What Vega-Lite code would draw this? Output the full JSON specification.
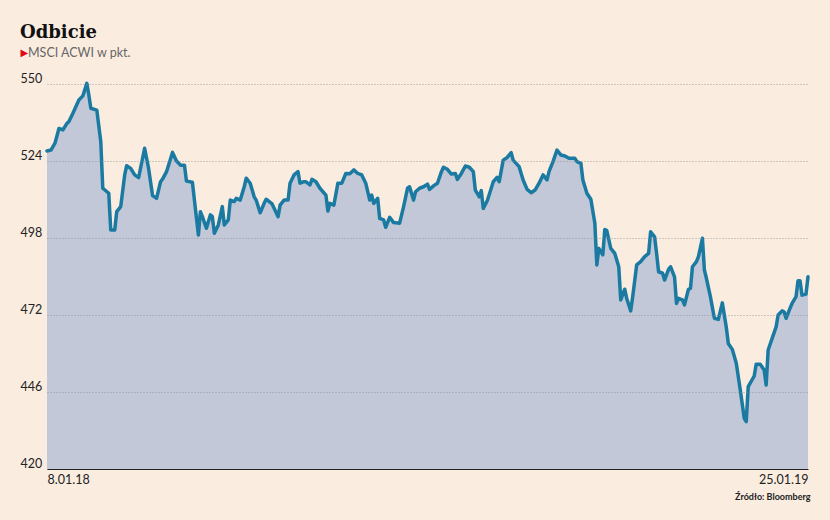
{
  "$schema": "https://vega.github.io/schema/vega-lite/v6.json",
  "width": 761,
  "height": 385,
  "autosize": {"type": "none"},
  "padding": {"left": 47, "top": 84, "right": 22, "bottom": 51},
  "background": "#FAEDE0",
  "title": {
    "text": "Odbicie",
    "subtitle": "MSCI ACWI w pkt.",
    "anchor": "start",
    "dx": 0,
    "offset": -12,
    "font": "DejaVu Serif",
    "fontSize": 18,
    "fontWeight": "bold",
    "color": "#111111",
    "subtitleFont": "Lato",
    "subtitleFontSize": 12.5,
    "subtitleColor": "#666666",
    "subtitlePadding": 5,
    "encode": {"subtitle": {"update": {"dx": {"value": 8}}}}
  },
  "config": {"view": {"stroke": null}},
  "data": {
    "values": [
      {"d": "2018-01-08", "v": 527.4}, {"d": "2018-01-10", "v": 527.7}, {"d": "2018-01-12", "v": 530.0}, {"d": "2018-01-14", "v": 535.0},
      {"d": "2018-01-16", "v": 534.5}, {"d": "2018-01-18", "v": 536.7}, {"d": "2018-01-19", "v": 537.3}, {"d": "2018-01-21", "v": 540.1},
      {"d": "2018-01-24", "v": 544.6}, {"d": "2018-01-26", "v": 546.0}, {"d": "2018-01-28", "v": 550.2}, {"d": "2018-01-29", "v": 546.3},
      {"d": "2018-01-30", "v": 541.8}, {"d": "2018-02-02", "v": 541.2}, {"d": "2018-02-04", "v": 530.5}, {"d": "2018-02-05", "v": 514.8},
      {"d": "2018-02-08", "v": 513.1}, {"d": "2018-02-09", "v": 500.7}, {"d": "2018-02-11", "v": 500.7}, {"d": "2018-02-12", "v": 506.9},
      {"d": "2018-02-14", "v": 508.6}, {"d": "2018-02-16", "v": 519.3}, {"d": "2018-02-17", "v": 522.4}, {"d": "2018-02-19", "v": 521.5},
      {"d": "2018-02-21", "v": 519.3}, {"d": "2018-02-23", "v": 518.4}, {"d": "2018-02-26", "v": 528.3}, {"d": "2018-02-28", "v": 521.5},
      {"d": "2018-03-02", "v": 512.3}, {"d": "2018-03-04", "v": 511.4}, {"d": "2018-03-06", "v": 517.0}, {"d": "2018-03-07", "v": 517.9},
      {"d": "2018-03-09", "v": 520.4}, {"d": "2018-03-12", "v": 526.9}, {"d": "2018-03-14", "v": 524.0}, {"d": "2018-03-16", "v": 522.6},
      {"d": "2018-03-18", "v": 522.6}, {"d": "2018-03-19", "v": 517.2}, {"d": "2018-03-22", "v": 516.8}, {"d": "2018-03-23", "v": 510.8},
      {"d": "2018-03-25", "v": 499.0}, {"d": "2018-03-26", "v": 506.9}, {"d": "2018-03-27", "v": 505.2}, {"d": "2018-03-29", "v": 501.3},
      {"d": "2018-03-31", "v": 505.8}, {"d": "2018-04-01", "v": 505.2}, {"d": "2018-04-02", "v": 499.6}, {"d": "2018-04-04", "v": 502.4},
      {"d": "2018-04-06", "v": 508.6}, {"d": "2018-04-07", "v": 502.4}, {"d": "2018-04-09", "v": 504.1}, {"d": "2018-04-10", "v": 510.8},
      {"d": "2018-04-12", "v": 510.3}, {"d": "2018-04-13", "v": 511.4}, {"d": "2018-04-15", "v": 510.8}, {"d": "2018-04-17", "v": 515.3},
      {"d": "2018-04-18", "v": 518.2}, {"d": "2018-04-20", "v": 516.5}, {"d": "2018-04-22", "v": 511.9}, {"d": "2018-04-23", "v": 510.8},
      {"d": "2018-04-25", "v": 506.5}, {"d": "2018-04-27", "v": 509.7}, {"d": "2018-04-28", "v": 511.1}, {"d": "2018-05-01", "v": 509.5},
      {"d": "2018-05-04", "v": 505.2}, {"d": "2018-05-05", "v": 509.1}, {"d": "2018-05-07", "v": 510.8}, {"d": "2018-05-09", "v": 510.8},
      {"d": "2018-05-10", "v": 516.5}, {"d": "2018-05-12", "v": 519.3}, {"d": "2018-05-14", "v": 520.4}, {"d": "2018-05-15", "v": 516.5},
      {"d": "2018-05-17", "v": 517.0}, {"d": "2018-05-18", "v": 517.0}, {"d": "2018-05-20", "v": 515.9}, {"d": "2018-05-21", "v": 517.8},
      {"d": "2018-05-23", "v": 517.0}, {"d": "2018-05-25", "v": 514.8}, {"d": "2018-05-28", "v": 512.5}, {"d": "2018-05-29", "v": 507.1},
      {"d": "2018-05-30", "v": 509.7}, {"d": "2018-06-01", "v": 509.1}, {"d": "2018-06-03", "v": 516.5}, {"d": "2018-06-05", "v": 516.5},
      {"d": "2018-06-07", "v": 519.8}, {"d": "2018-06-09", "v": 519.7}, {"d": "2018-06-11", "v": 521.0}, {"d": "2018-06-13", "v": 519.8},
      {"d": "2018-06-15", "v": 519.3}, {"d": "2018-06-17", "v": 516.5}, {"d": "2018-06-19", "v": 510.8}, {"d": "2018-06-20", "v": 512.5},
      {"d": "2018-06-21", "v": 509.7}, {"d": "2018-06-23", "v": 511.4}, {"d": "2018-06-24", "v": 504.6}, {"d": "2018-06-26", "v": 504.1},
      {"d": "2018-06-27", "v": 501.6}, {"d": "2018-06-29", "v": 505.0}, {"d": "2018-07-01", "v": 503.2}, {"d": "2018-07-04", "v": 503.0},
      {"d": "2018-07-06", "v": 508.6}, {"d": "2018-07-08", "v": 514.8}, {"d": "2018-07-09", "v": 515.3}, {"d": "2018-07-11", "v": 510.8},
      {"d": "2018-07-12", "v": 513.6}, {"d": "2018-07-14", "v": 514.8}, {"d": "2018-07-16", "v": 515.3}, {"d": "2018-07-18", "v": 516.2},
      {"d": "2018-07-19", "v": 514.4}, {"d": "2018-07-21", "v": 515.6}, {"d": "2018-07-23", "v": 516.5}, {"d": "2018-07-25", "v": 520.4},
      {"d": "2018-07-26", "v": 521.9}, {"d": "2018-07-28", "v": 521.2}, {"d": "2018-07-30", "v": 519.6}, {"d": "2018-08-01", "v": 519.8},
      {"d": "2018-08-02", "v": 517.8}, {"d": "2018-08-04", "v": 519.8}, {"d": "2018-08-06", "v": 522.3}, {"d": "2018-08-08", "v": 521.9},
      {"d": "2018-08-10", "v": 520.4}, {"d": "2018-08-11", "v": 514.2}, {"d": "2018-08-13", "v": 511.9}, {"d": "2018-08-14", "v": 514.0},
      {"d": "2018-08-15", "v": 508.0}, {"d": "2018-08-17", "v": 510.6}, {"d": "2018-08-19", "v": 514.8}, {"d": "2018-08-20", "v": 517.0},
      {"d": "2018-08-22", "v": 518.5}, {"d": "2018-08-23", "v": 517.0}, {"d": "2018-08-25", "v": 524.3}, {"d": "2018-08-27", "v": 525.2},
      {"d": "2018-08-29", "v": 526.8}, {"d": "2018-08-30", "v": 524.3}, {"d": "2018-09-02", "v": 522.1}, {"d": "2018-09-04", "v": 517.6},
      {"d": "2018-09-06", "v": 514.4}, {"d": "2018-09-08", "v": 513.3}, {"d": "2018-09-10", "v": 514.2}, {"d": "2018-09-12", "v": 516.5},
      {"d": "2018-09-14", "v": 519.3}, {"d": "2018-09-16", "v": 517.6}, {"d": "2018-09-17", "v": 520.4}, {"d": "2018-09-19", "v": 523.8},
      {"d": "2018-09-21", "v": 527.7}, {"d": "2018-09-23", "v": 526.0}, {"d": "2018-09-25", "v": 525.7}, {"d": "2018-09-27", "v": 524.9},
      {"d": "2018-09-30", "v": 524.9}, {"d": "2018-10-01", "v": 523.8}, {"d": "2018-10-03", "v": 523.2}, {"d": "2018-10-04", "v": 517.6},
      {"d": "2018-10-06", "v": 513.1}, {"d": "2018-10-08", "v": 511.1}, {"d": "2018-10-10", "v": 503.0}, {"d": "2018-10-11", "v": 488.9},
      {"d": "2018-10-12", "v": 494.5}, {"d": "2018-10-14", "v": 492.3}, {"d": "2018-10-15", "v": 500.9}, {"d": "2018-10-16", "v": 500.5},
      {"d": "2018-10-18", "v": 494.5}, {"d": "2018-10-20", "v": 492.8}, {"d": "2018-10-22", "v": 488.3}, {"d": "2018-10-23", "v": 477.1},
      {"d": "2018-10-25", "v": 480.7}, {"d": "2018-10-26", "v": 477.6}, {"d": "2018-10-28", "v": 473.4}, {"d": "2018-10-29", "v": 478.2},
      {"d": "2018-10-31", "v": 488.9}, {"d": "2018-11-02", "v": 490.0}, {"d": "2018-11-04", "v": 491.7}, {"d": "2018-11-06", "v": 492.8},
      {"d": "2018-11-07", "v": 500.1}, {"d": "2018-11-09", "v": 498.4}, {"d": "2018-11-10", "v": 492.8}, {"d": "2018-11-11", "v": 486.6},
      {"d": "2018-11-13", "v": 486.1}, {"d": "2018-11-14", "v": 483.8}, {"d": "2018-11-16", "v": 487.4}, {"d": "2018-11-17", "v": 488.3},
      {"d": "2018-11-19", "v": 484.9}, {"d": "2018-11-20", "v": 475.9}, {"d": "2018-11-21", "v": 477.6}, {"d": "2018-11-23", "v": 477.1},
      {"d": "2018-11-24", "v": 475.4}, {"d": "2018-11-26", "v": 480.7}, {"d": "2018-11-27", "v": 481.0}, {"d": "2018-11-28", "v": 488.3},
      {"d": "2018-11-30", "v": 490.0}, {"d": "2018-12-01", "v": 491.7}, {"d": "2018-12-03", "v": 497.9}, {"d": "2018-12-04", "v": 487.2},
      {"d": "2018-12-05", "v": 484.4}, {"d": "2018-12-07", "v": 478.2}, {"d": "2018-12-09", "v": 470.9}, {"d": "2018-12-11", "v": 470.5},
      {"d": "2018-12-13", "v": 476.1}, {"d": "2018-12-15", "v": 467.8}, {"d": "2018-12-16", "v": 462.4}, {"d": "2018-12-18", "v": 460.4},
      {"d": "2018-12-20", "v": 455.7}, {"d": "2018-12-22", "v": 446.7}, {"d": "2018-12-24", "v": 437.1}, {"d": "2018-12-25", "v": 436.0},
      {"d": "2018-12-26", "v": 447.8}, {"d": "2018-12-29", "v": 451.4}, {"d": "2018-12-30", "v": 455.4}, {"d": "2019-01-01", "v": 455.4},
      {"d": "2019-01-03", "v": 453.4}, {"d": "2019-01-04", "v": 448.4}, {"d": "2019-01-05", "v": 460.2}, {"d": "2019-01-07", "v": 464.1},
      {"d": "2019-01-09", "v": 468.0}, {"d": "2019-01-10", "v": 472.0}, {"d": "2019-01-12", "v": 473.4}, {"d": "2019-01-13", "v": 473.1},
      {"d": "2019-01-14", "v": 470.9}, {"d": "2019-01-16", "v": 474.3}, {"d": "2019-01-17", "v": 475.9}, {"d": "2019-01-19", "v": 478.2},
      {"d": "2019-01-20", "v": 483.6}, {"d": "2019-01-21", "v": 483.6}, {"d": "2019-01-22", "v": 478.7}, {"d": "2019-01-24", "v": 479.1},
      {"d": "2019-01-25", "v": 484.9}
    ]
  },
  "encoding": {
    "x": {
      "field": "d",
      "type": "temporal",
      "scale": {
        "type": "utc",
        "domain": [
          {"year": 2018, "month": 1, "date": 8, "utc": true},
          {"year": 2019, "month": 1, "date": 25, "utc": true}
        ]
      },
      "axis": {
        "values": [
          {"year": 2018, "month": 1, "date": 8, "utc": true},
          {"year": 2019, "month": 1, "date": 25, "utc": true}
        ],
        "format": "%-d.%m.%y",
        "labelFlush": true,
        "grid": false,
        "ticks": false,
        "domain": true,
        "domainColor": "#222222",
        "domainWidth": 1.2,
        "labelFont": "Lato",
        "labelFontSize": 12.5,
        "labelColor": "#222222",
        "labelPadding": 4,
        "title": "Źródło: Bloomberg",
        "titleFont": "Lato",
        "titleFontSize": 9,
        "titleFontWeight": "bold",
        "titleColor": "#222222",
        "titleAnchor": "end",
        "titleAlign": "right",
        "titleBaseline": "alphabetic",
        "titleX": 763,
        "titleY": 30,
        "zindex": 1
      }
    },
    "y": {
      "field": "v",
      "type": "quantitative",
      "scale": {"domain": [420, 550], "nice": false, "zero": false},
      "axis": {
        "values": [420, 446, 472, 498, 524, 550],
        "title": "▶",
        "titleColor": "#E30613",
        "titleFont": "DejaVu Sans",
        "titleFontSize": 10,
        "titleFontWeight": "normal",
        "titleAngle": 0,
        "titleAlign": "left",
        "titleBaseline": "alphabetic",
        "titleX": -27,
        "titleY": -29,
        "grid": true,
        "gridDash": [1, 2],
        "gridColor": "#8a8a8a",
        "gridWidth": 0.8,
        "domain": false,
        "ticks": false,
        "tickSize": 0,
        "labelAlign": "left",
        "labelBaseline": "alphabetic",
        "labelPadding": 27,
        "labelOffset": -2,
        "labelFont": "Lato",
        "labelFontSize": 12.5,
        "labelColor": "#222222",
        "zindex": 1
      }
    }
  },
  "layer": [
    {"mark": {"type": "area", "color": "#C2C8D8", "opacity": 1}, "encoding": {"y2": {"datum": 420}}},
    {"mark": {"type": "line", "color": "#1A7AA2", "strokeWidth": 3.5, "strokeJoin": "round", "strokeCap": "round"}}
  ]
}
